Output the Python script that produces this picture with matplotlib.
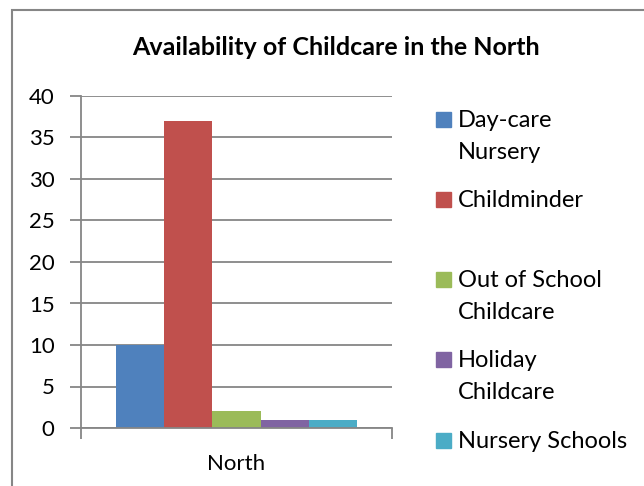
import matplotlib.pyplot as plt
from matplotlib.patches import Rectangle

plt.rcParams['font.family'] = ['Lato', 'DejaVu Sans']

categories = ['North']
series = ['Day-care\nNursery', 'Childminder', 'Out of School\nChildcare',
          'Holiday\nChildcare', 'Nursery Schools']
values = [10, 37, 2, 1, 1]
colors = ['#4F81BD', '#C0504D', '#9BBB59', '#8064A2', '#4BACC6']
yticks = [0, 5, 10, 15, 20, 25, 30, 35, 40]

grey = '#868686'

fig = plt.figure(figsize=(6.44, 4.86), dpi=100)
ax = fig.add_axes([81/644, 1-428/486, (392-81)/644, (428-96)/486])

w = 0.155
for i, (s, v, c) in enumerate(zip(series, values, colors)):
    ax.bar(0 + (i-2)*w, v, width=w, color=c, zorder=3, label=s)

ax.set_xlim(-0.5, 0.5)
ax.set_ylim(0, 40)
ax.set_yticks(yticks)
ax.set_yticklabels([str(t) for t in yticks], fontsize=16)
ax.set_xticks([0])
ax.set_xticklabels(categories, fontsize=16)
ax.set_xticks([-0.5, 0.5], minor=True)
ax.tick_params(axis='x', which='major', length=0, pad=19)
ax.tick_params(axis='x', which='minor', length=8, width=1.3, color=grey, direction='out')
ax.tick_params(axis='y', length=8, width=1.3, color=grey, direction='out', pad=11)
ax.yaxis.grid(True, color=grey, linewidth=1.3, zorder=0)
for side in ['top', 'right']:
    ax.spines[side].set_visible(False)
for side in ['left', 'bottom']:
    ax.spines[side].set_color(grey)
    ax.spines[side].set_linewidth(1.3)
ax.spines['bottom'].set_zorder(4)

fig.text(336/644, 1-47/486, 'Availability of Childcare in the North',
         ha='center', va='center', fontsize=18, fontweight='bold')

# legend, placed like the Excel one
leg_y = [120, 200, 280, 360, 441]
for s, c, y in zip(series, colors, leg_y):
    fig.patches.append(Rectangle((436/644, 1-(y+7)/486), 15/644, 15/486,
                                 transform=fig.transFigure, color=c))
    fig.text(458/644, 1-(y-10)/486, s, ha='left', va='top', fontsize=17,
             linespacing=1.65)

# chart border
fig.patches.append(Rectangle((12/644, -0.1), 1.2, 1-10/486+0.1, transform=fig.transFigure,
                             fill=False, edgecolor=grey, linewidth=1.5))

fig.savefig('out.png', dpi=100)
